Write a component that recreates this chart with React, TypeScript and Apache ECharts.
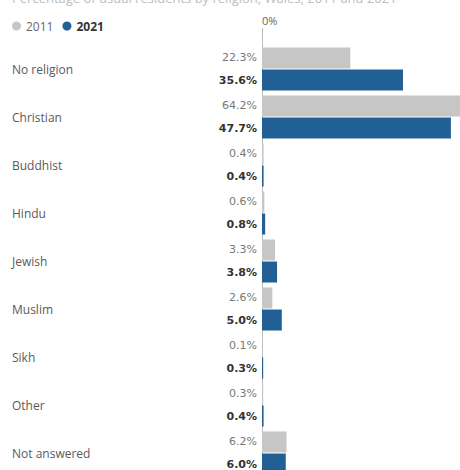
import React, { useEffect, useRef } from "react";
import * as echarts from "echarts";

const categories = [
  "No religion",
  "Christian",
  "Buddhist",
  "Hindu",
  "Jewish",
  "Muslim",
  "Sikh",
  "Other",
  "Not answered",
];
const values2011 = [22.3, 64.2, 0.4, 0.6, 3.3, 2.6, 0.1, 0.3, 6.2];
const values2021 = [35.6, 47.7, 0.4, 0.8, 3.8, 5.0, 0.3, 0.4, 6.0];
const xTicks = [0, 50];
const seriesNames = ["2011", "2021"];
const titleText = "Percentage of usual residents by religion, Wales, 2011 and 2021";

const GREY = "#c6c6c6";
const BLUE = "#206095";

export default function App() {
  const ref = useRef<HTMLDivElement>(null);
  useEffect(() => {
    document.body.style.margin = "0";
    const chart = echarts.init(ref.current!, undefined, { renderer: "svg" });
    chart.setOption({
      animation: false,
      backgroundColor: "#ffffff",
      legend: {
        left: 7,
        top: 15,
        icon: "circle",
        itemWidth: 9,
        itemHeight: 9,
        itemGap: 9,
        textStyle: { fontFamily: "Open Sans", fontSize: 12, color: "#666" },
        data: [
          { name: seriesNames[0] },
          { name: seriesNames[1], textStyle: { fontWeight: "bold", color: "#333" } },
        ],
      },
      graphic: [
        {
          type: "text",
          left: 12,
          top: -9,
          style: {
            text: titleText,
            fill: "#bdbdbd",
            font: "13px 'Open Sans'",
          },
        },
        {
          type: "line",
          shape: { x1: 262.5, y1: 28, x2: 262.5, y2: 46 },
          style: { stroke: "#bbbbbb", lineWidth: 1 },
        },
      ],
      grid: {
        left: 262,
        right: 0,
        top: 45,
        height: 432,
        containLabel: false,
        outerBoundsMode: "none",
      },
      xAxis: {
        type: "value",
        position: "top",
        min: xTicks[0],
        max: xTicks[xTicks.length - 1],
        interval: xTicks[1] - xTicks[0],
        axisLine: { show: false },
        axisTick: { show: false },
        splitLine: { show: false },
        axisLabel: {
          margin: 19,
          align: "left",
          fontFamily: "Open Sans",
          fontSize: 11,
          color: "#666",
          formatter: (v: number) => (v === 0 ? "0%" : ""),
        },
      },
      yAxis: {
        type: "category",
        inverse: true,
        data: categories,
        axisLine: { show: true, lineStyle: { color: "#bbbbbb", width: 1 } },
        axisTick: { show: false },
        axisLabel: {
          align: "left",
          margin: 250,
          fontFamily: "Open Sans",
          fontSize: 12,
          color: "#5a5a5a",
        },
      },
      series: [
        {
          name: seriesNames[0],
          type: "bar",
          data: values2011,
          barWidth: 21,
          barGap: "5%",
          clip: true,
          itemStyle: { color: GREY },
          label: {
            show: true,
            position: "left",
            distance: 5,
            fontFamily: "DejaVu Sans",
            fontSize: 11,
            color: "#777",
            formatter: (p: any) => p.value.toFixed(1) + "%",
          },
        },
        {
          name: seriesNames[1],
          type: "bar",
          data: values2021,
          barWidth: 21,
          barGap: "5%",
          clip: true,
          itemStyle: { color: BLUE },
          label: {
            show: true,
            position: "left",
            distance: 5,
            fontFamily: "DejaVu Sans",
            fontSize: 11,
            fontWeight: "bold",
            color: "#333",
            formatter: (p: any) => p.value.toFixed(1) + "%",
          },
        },
      ],
    });
    return () => chart.dispose();
  }, []);
  return <div ref={ref} style={{ width: 460, height: 470 }} />;
}
